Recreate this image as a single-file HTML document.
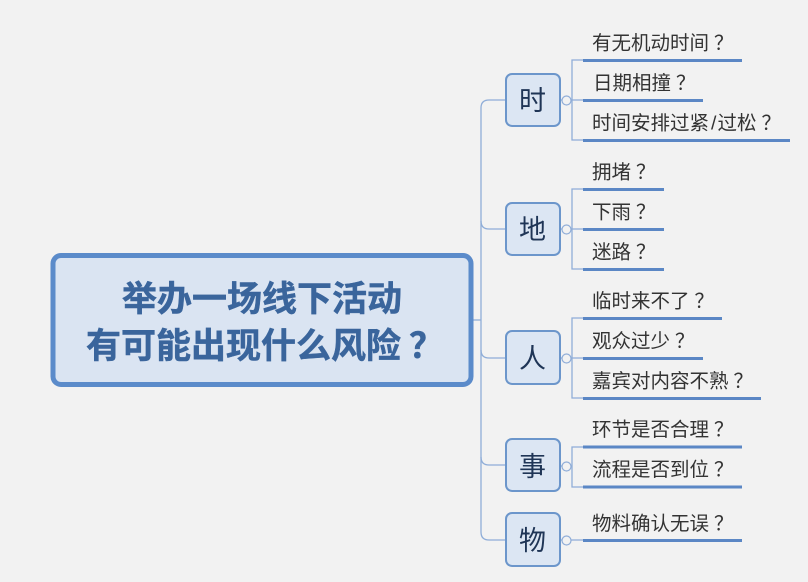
<!DOCTYPE html>
<html lang="zh">
<head>
<meta charset="utf-8">
<style>
html,body{margin:0;padding:0;background:#f2f2f2;}
svg{display:block;}
text{font-family:"Liberation Sans","Noto Sans CJK SC",sans-serif;}
.c{font-size:19.5px;fill:#333;}
.n{font-size:27px;fill:#1f3556;text-anchor:middle;}
.r{font-size:35px;font-weight:700;fill:#3a659c;stroke:#3a659c;stroke-width:.5;}
.box{fill:#dce6f3;stroke:#6c96cb;stroke-width:2;}
.l{fill:none;stroke:#8fadd8;stroke-width:1.3;}
.u{stroke:#5b87c5;stroke-width:3;}
.o{fill:#f2f2f2;stroke:#8fadd8;stroke-width:1.2;}
</style>
</head>
<body>
<svg width="808" height="582" viewBox="0 0 808 582" xmlns="http://www.w3.org/2000/svg">
<rect width="808" height="582" fill="#f2f2f2"/>

<!-- trunk -->
<path class="l" d="M472 320H481"/>
<path class="l" d="M506 100H489Q481 100 481 108V532Q481 540 489 540H506"/>
<path class="l" d="M481 221Q481 229 489 229H506"/>
<path class="l" d="M481 350Q481 358 489 358H506"/>
<path class="l" d="M481 457Q481 465 489 465H506"/>

<!-- brackets -->
<path class="l" d="M583 60H572V140H583M560 100H583"/>
<path class="l" d="M583 189H572V269H583M560 229H583"/>
<path class="l" d="M583 318H572V398H583M560 358H583"/>
<path class="l" d="M583 447H572V487H583M560 466H572"/>
<path class="l" d="M560 540H583"/>

<!-- root -->
<rect x="53" y="255.500" width="418" height="129" rx="8" fill="#dae4f2" stroke="#5b8bca" stroke-width="5"/>
<text class="r" x="122" y="311">举办一场线下活动</text>
<text class="r" x="86" y="358">有可能出现什么风险<tspan dx="8">？</tspan></text>

<!-- nodes -->
<rect class="box" x="506" y="74" width="54" height="52" rx="6"/>
<text class="n" x="532.500" y="110">时</text>
<rect class="box" x="506" y="203" width="54" height="52" rx="6"/>
<text class="n" x="532.500" y="239">地</text>
<rect class="box" x="506" y="331" width="54" height="53" rx="6"/>
<text class="n" x="532.500" y="368">人</text>
<rect class="box" x="506" y="439" width="54" height="52" rx="6"/>
<text class="n" x="532.500" y="476">事</text>
<rect class="box" x="506" y="513" width="54" height="53" rx="6"/>
<text class="n" x="532.500" y="550">物</text>

<!-- collapse circles -->
<circle class="o" cx="566.500" cy="100.500" r="4.500"/>
<circle class="o" cx="566.500" cy="229.500" r="4.500"/>
<circle class="o" cx="566.500" cy="358.500" r="4.500"/>
<circle class="o" cx="566.500" cy="466.500" r="4.500"/>
<circle class="o" cx="566.500" cy="540.500" r="4.500"/>

<!-- underlines -->
<path class="u" d="M583 60.500H742M583 100.500H703M583 140.500H790"/>
<path class="u" d="M583 189.500H664M583 229.500H664M583 269.500H664"/>
<path class="u" d="M583 318.500H722M583 358.500H703M583 398.500H761"/>
<path class="u" d="M583 447H742M583 487H742"/>
<path class="u" d="M583 540.500H742"/>

<!-- child labels -->
<text class="c" x="592" y="49.500">有无机动时间<tspan dx="5">？</tspan></text>
<text class="c" x="593" y="89.500">日期相撞<tspan dx="5">？</tspan></text>
<text class="c" x="592" y="129.500">时间安排过紧<tspan dx="2">/</tspan><tspan dx="1">过松</tspan><tspan dx="5">？</tspan></text>
<text class="c" x="592" y="178.500">拥堵<tspan dx="5">？</tspan></text>
<text class="c" x="592" y="218.500">下雨<tspan dx="5">？</tspan></text>
<text class="c" x="592" y="258.500">迷路<tspan dx="5">？</tspan></text>
<text class="c" x="592" y="307.500">临时来不了<tspan dx="5">？</tspan></text>
<text class="c" x="592" y="347.500">观众过少<tspan dx="5">？</tspan></text>
<text class="c" x="592" y="387.500">嘉宾对内容不熟<tspan dx="5">？</tspan></text>
<text class="c" x="592" y="436">环节是否合理<tspan dx="5">？</tspan></text>
<text class="c" x="592" y="476">流程是否到位<tspan dx="5">？</tspan></text>
<text class="c" x="592" y="530">物料确认无误<tspan dx="5">？</tspan></text>
</svg>
</body>
</html>
